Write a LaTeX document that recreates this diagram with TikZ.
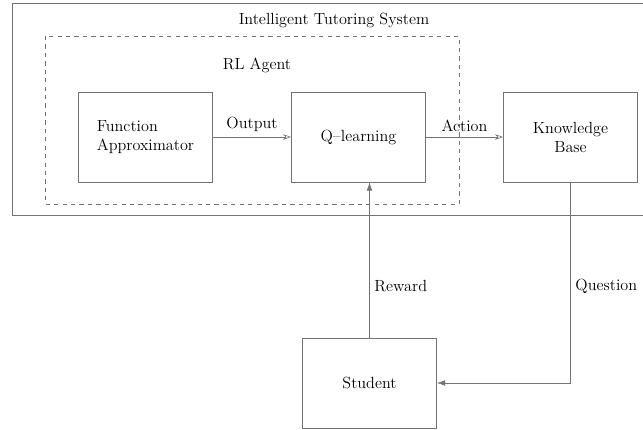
\documentclass[tikz,border=0pt]{standalone}
\usepackage{tikz}
\usetikzlibrary{arrows.meta}
\usetikzlibrary{positioning}
\usepackage{xcolor}

\definecolor{linegray}{gray}{0.45}

\begin{document}
\begin{tikzpicture}[font=\fontsize{11.5}{13.5}\selectfont]
      \useasboundingbox (0,0) rectangle (16.075,-10.725);

      % frames
      \draw[linegray]        (0.3,-0.075)   rectangle (16.4,-5.375);
      \draw[linegray,dashed] (1.125,-0.9)   rectangle (11.475,-5.1);
      \node (its)   at (8.35,-0.5)    {Intelligent Tutoring System};
      \node (agent) at (6.425,-1.625) {RL Agent};

      \begin{scope}[shape=rectangle,minimum width=3.35cm,minimum height=2.25cm,align=center]
          \tikzstyle{every node}=[draw=linegray]
          \node[align=left] (fa) at (3.6375,-3.425) {Function\\Approximator};
          \node (ql)   at (8.9625,-3.425) {Q--learning};
          \node (kb)   at (14.2625,-3.425) {Knowledge\\Base};
          \node (stud) at (9.2375,-9.575) {Student};
      \end{scope}

      \draw[-{Stealth[length=6pt,width=4pt,open]},linegray] (fa) -- (ql)
            node[above, midway, text=black] {Output};
      \draw[-{Stealth[length=6pt,width=4pt,open]},linegray] (ql) -- (kb)
            node[above, midway, text=black] {Action};
      \draw[-{Latex[length=6pt,width=4pt]},linegray] (stud.north) -- (stud.north |- ql.south)
            node[right, pos=0.33, text=black] {Reward};
      \draw[-{Latex[length=6pt,width=4pt]},linegray] (kb) |- (stud)
            node[right, pos=0.26, text=black] {Question};
  \end{tikzpicture}
\end{document}
